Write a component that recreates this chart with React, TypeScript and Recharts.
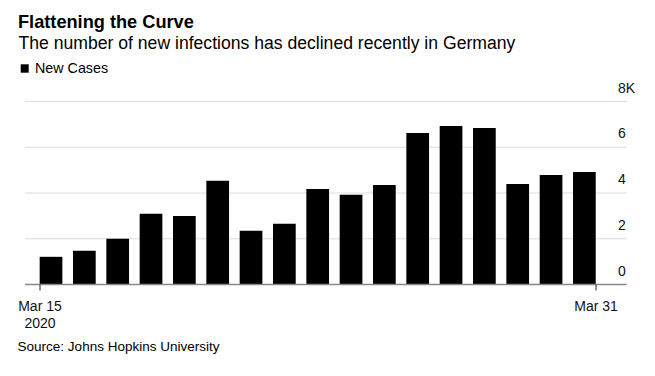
import React from "react";
import {
  BarChart,
  Bar,
  XAxis,
  YAxis,
  CartesianGrid,
  ReferenceLine,
} from "recharts";

const dates = [
  "Mar 15", "Mar 16", "Mar 17", "Mar 18", "Mar 19", "Mar 20", "Mar 21", "Mar 22",
  "Mar 23", "Mar 24", "Mar 25", "Mar 26", "Mar 27", "Mar 28", "Mar 29", "Mar 30", "Mar 31",
];
const newCases = [
  1210, 1480, 2000, 3090, 3000, 4540, 2350, 2660, 4180, 3920, 4350, 6620, 6930, 6840,
  4390, 4790, 4920,
];
const yTicks = [0, 2000, 4000, 6000, 8000];
const firstYear = "2020";
const title = "Flattening the Curve";
const subtitle = "The number of new infections has declined recently in Germany";
const legendLabel = "New Cases";
const source = "Source: Johns Hopkins University";

const data = dates.map((d, i) => ({ idx: i, date: d, value: newCases[i] }));

const FONT = "'Liberation Sans', Arial, Helvetica, sans-serif";
const HALF_BAR = 0.34; // half of bar width in day units
const xTicks = [0 - HALF_BAR, dates.length - 1 + HALF_BAR];

const XTick = (props: any) => {
  const { x, y, payload } = props;
  const isFirst = payload.value < 0;
  const label = isFirst ? dates[0] : dates[dates.length - 1];
  return (
    <g>
      <text x={x} y={y + 20} textAnchor="middle" fontSize={14} fill="#111" fontFamily={FONT}>
        {label}
      </text>
      {isFirst && (
        <text x={x} y={y + 37.2} textAnchor="middle" fontSize={14} fill="#111" fontFamily={FONT}>
          {firstYear}
        </text>
      )}
    </g>
  );
};

const YTick = (props: any) => {
  const { y, payload } = props;
  const v = payload.value;
  const label = v === 8000 ? "8K" : String(v / 1000);
  return (
    <text x={618} y={y - 9} textAnchor="start" fontSize={14} fill="#111" fontFamily={FONT}>
      {label}
    </text>
  );
};

export default function App() {
  return (
    <div style={{ position: "absolute", left: 0, top: 0, width: 655, height: 376, background: "#fff" }}>
      <BarChart
        width={655}
        height={376}
        data={data}
        margin={{ top: 101.5, right: 0, bottom: 0, left: 25 }}
      >
        <CartesianGrid vertical={false} stroke="#dcdcdc" strokeWidth={1} />
        <XAxis
          dataKey="idx"
          type="number"
          domain={[-0.79, 17.26]}
          ticks={xTicks}
          interval={0}
          height={91.5}
          axisLine={false}
          tickLine={{ stroke: "#222", strokeWidth: 1 }}
          tickSize={6}
          tickMargin={0}
          tick={<XTick />}
        />
        <YAxis
          orientation="right"
          width={28.3}
          domain={[0, 8000]}
          ticks={yTicks}
          axisLine={false}
          tickLine={false}
          tickMargin={0}
          tick={<YTick />}
        />
        <Bar dataKey="value" fill="#000" barSize={22.7} isAnimationActive={false} />
        <ReferenceLine y={0} stroke="#888" strokeWidth={1.5} />
      </BarChart>
      <svg
        width={655}
        height={376}
        style={{ position: "absolute", left: 0, top: 0, pointerEvents: "none" }}
      >
        <text x={18} y={28} fontSize={18.2} fontWeight="bold" fill="#000" fontFamily={FONT}>
          {title}
        </text>
        <text x={18.5} y={49} fontSize={17.6} fill="#000" fontFamily={FONT}>
          {subtitle}
        </text>
        <rect x={20.7} y={64.3} width={8} height={8.4} fill="#000" />
        <text x={35} y={73.3} fontSize={14.3} fill="#000" fontFamily={FONT}>
          {legendLabel}
        </text>
        <text x={17.6} y={351} fontSize={13.5} fill="#000" fontFamily={FONT}>
          {source}
        </text>
      </svg>
    </div>
  );
}
